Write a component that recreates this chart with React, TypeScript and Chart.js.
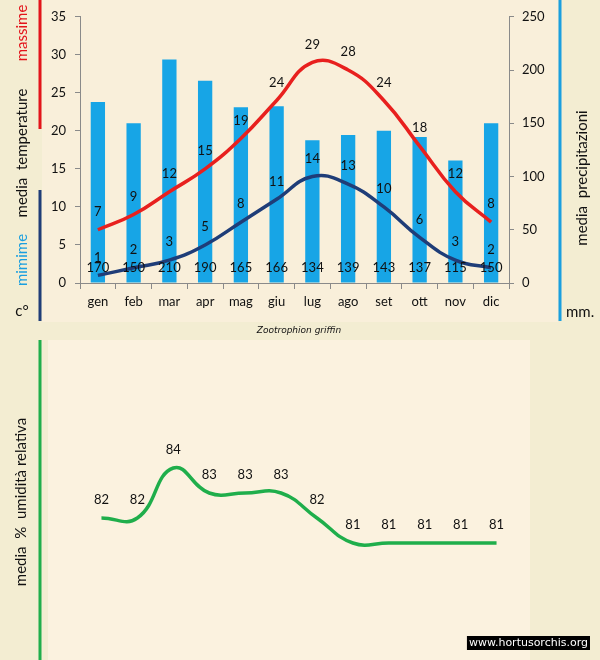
import React, { useEffect, useRef } from "react";
import { Chart, registerables } from "chart.js";
Chart.register(...registerables);

const months = ["gen", "feb", "mar", "apr", "mag", "giu", "lug", "ago", "set", "ott", "nov", "dic"];
const tempMax = [7, 9, 12, 15, 19, 24, 29, 28, 24, 18, 12, 8];
const tempMin = [1, 2, 3, 5, 8, 11, 14, 13, 10, 6, 3, 2];
const precip = [170, 150, 210, 190, 165, 166, 134, 139, 143, 137, 115, 150];
const humidity = [82, 82, 84, 83, 83, 83, 82, 81, 81, 81, 81, 81];

const FONT = 'Lato, "Open Sans", "DejaVu Sans", sans-serif';
const PAGE_BG = "#f3edd2";
const PARCH = "#f9efda";
const PARCH2 = "#fbf2df";

function vText(ctx: CanvasRenderingContext2D, text: string, x: number, y: number, color: string, size = 15) {
  ctx.save();
  ctx.translate(x, y);
  ctx.rotate(-Math.PI / 2);
  ctx.font = `${size}px ${FONT}`;
  ctx.fillStyle = color;
  ctx.textAlign = "center";
  ctx.textBaseline = "middle";
  ctx.fillText(text, 0, 0);
  ctx.restore();
}

const valueLabels = {
  id: "valueLabels",
  afterDatasetsDraw(chart: any) {
    const ctx = chart.ctx;
    ctx.save();
    ctx.font = `13px ${FONT}`;
    ctx.fillStyle = "#111";
    ctx.textAlign = "center";
    ctx.textBaseline = "middle";
    chart.data.datasets.forEach((ds: any, i: number) => {
      const meta = chart.getDatasetMeta(i);
      meta.data.forEach((el: any, j: number) => {
        const v = ds.data[j];
        const y = meta.type === "bar" ? el.base - 15 : el.y + ds.labelDy;
        ctx.fillText(String(v), el.x, y);
      });
    });
    ctx.restore();
  },
};

const topDeco = {
  id: "topDeco",
  beforeDraw(chart: any) {
    const ctx = chart.ctx;
    ctx.save();
    ctx.fillStyle = PAGE_BG;
    ctx.fillRect(0, 0, chart.width, chart.height);
    ctx.fillStyle = PARCH;
    ctx.fillRect(42, 0, 516, 322);
    ctx.restore();
  },
  afterDraw(chart: any) {
    const ctx = chart.ctx;
    ctx.save();
    ctx.lineWidth = 3;
    ctx.strokeStyle = "#e3141b";
    ctx.beginPath(); ctx.moveTo(40, 0); ctx.lineTo(40, 129); ctx.stroke();
    ctx.strokeStyle = "#1f3d78";
    ctx.beginPath(); ctx.moveTo(40, 190); ctx.lineTo(40, 321); ctx.stroke();
    ctx.strokeStyle = "#1a9fdf";
    ctx.beginPath(); ctx.moveTo(560, 0); ctx.lineTo(560, 321); ctx.stroke();
    ctx.restore();
    vText(ctx, "massime", 22, 33, "#e3141b");
    vText(ctx, "media  temperature", 22, 153, "#111");
    vText(ctx, "mimime", 22, 260, "#1a9fdf");
    vText(ctx, "media  precipitazioni", 582, 178, "#111");
    ctx.save();
    ctx.font = `15px ${FONT}`;
    ctx.fillStyle = "#111";
    ctx.textBaseline = "middle";
    ctx.textAlign = "center";
    ctx.fillText("c°", 22, 311);
    ctx.textAlign = "left";
    ctx.fillText("mm.", 566, 312);
    ctx.font = `italic 9px "DejaVu Sans", sans-serif`;
    ctx.textAlign = "center";
    ctx.fillText("Zootrophion griffin", 299, 331);
    ctx.restore();
  },
};

const bottomDeco = {
  id: "bottomDeco",
  beforeDraw(chart: any) {
    const ctx = chart.ctx;
    ctx.save();
    ctx.fillStyle = PAGE_BG;
    ctx.fillRect(0, 0, chart.width, chart.height);
    ctx.fillStyle = PARCH2;
    ctx.fillRect(48, 0, 482, chart.height);
    ctx.restore();
  },
  afterDraw(chart: any) {
    const ctx = chart.ctx;
    ctx.save();
    ctx.lineWidth = 3;
    ctx.strokeStyle = "#1fae4b";
    ctx.beginPath(); ctx.moveTo(40, 0); ctx.lineTo(40, chart.height); ctx.stroke();
    ctx.restore();
    vText(ctx, "media  %  umidità relativa", 21, 162, "#111");
    ctx.save();
    ctx.font = `11px "DejaVu Sans", sans-serif`;
    const t = "www.hortusorchis.org";
    const w = ctx.measureText(t).width;
    ctx.fillStyle = "#000";
    ctx.fillRect(590 - w - 4, 296, w + 4, 14);
    ctx.fillStyle = "#fff";
    ctx.textBaseline = "middle";
    ctx.textAlign = "left";
    ctx.fillText(t, 590 - w - 2, 303.5);
    ctx.restore();
  },
};

export default function App() {
  const topRef = useRef<HTMLCanvasElement>(null);
  const botRef = useRef<HTMLCanvasElement>(null);

  useEffect(() => {
    const axisColor = "#8a8a8a";
    const tickFont = { family: FONT, size: 13 };
    const top = new Chart(topRef.current as HTMLCanvasElement, {
      type: "bar",
      data: {
        labels: months,
        datasets: [
          {
            type: "line",
            label: "massime",
            data: tempMax,
            yAxisID: "yT",
            borderColor: "#e8201e",
            borderWidth: 3.5,
            pointRadius: 0,
            tension: 0.45,
            order: 0,
            labelDy: -18,
          } as any,
          {
            type: "line",
            label: "minime",
            data: tempMin,
            yAxisID: "yT",
            borderColor: "#1f3d78",
            borderWidth: 3.5,
            pointRadius: 0,
            tension: 0.45,
            order: 1,
            labelDy: -18,
          } as any,
          {
            type: "bar",
            label: "precipitazioni",
            data: precip,
            yAxisID: "yP",
            backgroundColor: "#17a5e6",
            barPercentage: 0.4,
            categoryPercentage: 1,
            order: 2,
          } as any,
        ],
      },
      options: {
        animation: false,
        responsive: false,
        layout: { padding: { top: 16, left: 0, right: 0, bottom: 0 } },
        plugins: { legend: { display: false }, tooltip: { enabled: false } },
        scales: {
          x: {
            offset: true,
            grid: { display: true, drawOnChartArea: false, drawTicks: true, tickLength: 6, color: axisColor, offset: true },
            border: { display: true, color: axisColor },
            ticks: { font: tickFont, color: "#111", padding: 5 },
            afterFit(s: any) { s.height = 57; },
          },
          yT: {
            position: "left",
            min: 0,
            max: 35,
            grid: { drawOnChartArea: false, drawTicks: true, tickLength: 5, color: axisColor },
            border: { display: true, color: axisColor },
            ticks: { stepSize: 5, font: tickFont, color: "#111", padding: 9 },
            afterFit(s: any) { s.width = 80; },
          },
          yP: {
            position: "right",
            min: 0,
            max: 250,
            grid: { drawOnChartArea: false, drawTicks: true, tickLength: 5, color: axisColor },
            border: { display: true, color: axisColor },
            ticks: { stepSize: 50, font: tickFont, color: "#111", padding: 8 },
            afterFit(s: any) { s.width = 91; },
          },
        },
      } as any,
      plugins: [topDeco, valueLabels],
    });

    const bot = new Chart(botRef.current as HTMLCanvasElement, {
      type: "line",
      data: {
        labels: months,
        datasets: [
          {
            label: "umidità",
            data: humidity,
            borderColor: "#1fae4b",
            borderWidth: 3.5,
            pointRadius: 0,
            tension: 0.45,
            labelDy: -18,
          } as any,
        ],
      },
      options: {
        animation: false,
        responsive: false,
        layout: { padding: { top: 0, left: 83.5, right: 85.5, bottom: 0 } },
        plugins: { legend: { display: false }, tooltip: { enabled: false } },
        scales: {
          x: { display: false, offset: true },
          y: { display: false, min: 76.32, max: 89.12 },
        },
      } as any,
      plugins: [bottomDeco, valueLabels],
    });

    return () => {
      top.destroy();
      bot.destroy();
    };
  }, []);

  return (
    <div style={{ position: "absolute", left: 0, top: 0, width: 600, height: 660, background: PAGE_BG, overflow: "hidden" }}>
      <canvas ref={topRef} width={600} height={340} style={{ position: "absolute", left: 0, top: 0, width: 600, height: 340 }} />
      <canvas ref={botRef} width={600} height={320} style={{ position: "absolute", left: 0, top: 340, width: 600, height: 320 }} />
    </div>
  );
}
